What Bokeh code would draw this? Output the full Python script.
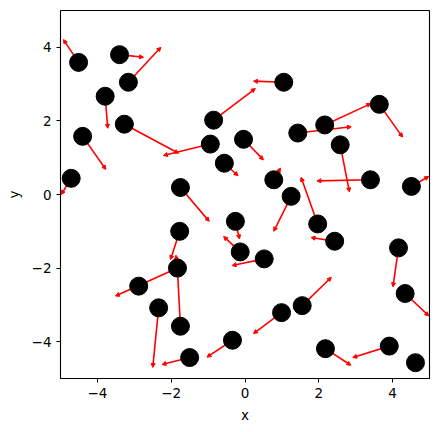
from bokeh.plotting import figure
from bokeh.models import Range1d, Arrow, NormalHead, ColumnDataSource, FixedTicker
from bokeh.embed import file_html
from bokeh.resources import INLINE

# circle positions
px = [-4.51, -3.40, -3.16, -3.79, -3.27, -0.94, -4.40, -4.71, -0.85, -1.75,
      -0.56, -0.04, 1.05, 3.64, 2.16, 1.43, 2.58, 3.40, 4.51, 0.78,
      1.25, 1.97, 2.43, 0.52, 4.16, 4.34, 1.55, 0.99, 2.18, 3.91,
      4.62, -0.26, -0.13, -1.77, -1.83, -1.75, -2.88, -2.34, -1.50, -0.34]
py = [3.59, 3.80, 3.05, 2.67, 1.91, 1.37, 1.58, 0.44, 2.02, 0.19,
      0.85, 1.50, 3.05, 2.45, 1.89, 1.67, 1.35, 0.40, 0.22, 0.40,
      -0.05, -0.80, -1.27, -1.75, -1.45, -2.69, -3.02, -3.21, -4.19, -4.12,
      -4.57, -0.73, -1.56, -1.00, -2.00, -3.58, -2.49, -3.08, -4.43, -3.96]

# arrow starts and ends
ax0 = [-4.51, -3.40, -3.16, -3.79, -3.27, -0.94, -4.40, -4.71, -0.85, -1.75,
       -0.56, -0.04, 1.05, 3.64, 2.16, 1.43, 2.58, 3.40, 4.51, 0.78,
       1.25, 1.97, 2.43, 0.52, 4.16, 4.34, 1.55, 0.99, 2.18, 3.91,
       -0.26, -0.13, -1.77, -1.83, -1.75, -1.83, -2.34, -1.50, -0.34]
ay0 = [3.59, 3.80, 3.05, 2.67, 1.91, 1.37, 1.58, 0.44, 2.02, 0.19,
       0.85, 1.50, 3.05, 2.45, 1.89, 1.67, 1.35, 0.40, 0.22, 0.40,
       -0.05, -0.80, -1.27, -1.75, -1.45, -2.69, -3.02, -3.21, -4.19, -4.12,
       -0.73, -1.56, -1.00, -2.00, -3.58, -2.00, -3.08, -4.43, -3.96]
ax1 = [-4.92, -2.75, -2.28, -3.72, -1.80, -2.21, -3.77, -4.98, 0.28, -0.97,
       -0.19, 0.50, 0.23, 4.27, 3.41, 2.88, 2.83, 1.95, 4.98, 0.96,
       0.78, 1.52, 1.79, -0.35, 4.01, 4.98, 2.34, 0.23, 2.87, 2.92,
       -0.15, -0.58, -2.02, -1.87, -1.83, -3.51, -2.50, -2.25, -1.03]
ay1 = [4.21, 3.73, 4.00, 1.80, 1.12, 1.06, 0.68, 0.00, 2.88, -0.73,
       0.51, 0.94, 3.08, 1.56, 2.47, 1.84, 0.07, 0.37, 0.49, 0.72,
       -1.00, 0.47, -1.17, -1.93, -2.51, -3.30, -2.25, -3.78, -4.64, -4.43,
       -1.21, -1.14, -1.77, -1.65, -2.05, -2.76, -4.70, -4.62, -4.42]

ticks = [-4, -2, 0, 2, 4]
tick_labels = {-4: "\u22124", -2: "\u22122", 0: "0", 2: "2", 4: "4"}

p = figure(width=439, height=432, output_backend="svg", toolbar_location=None,
           x_range=Range1d(-5, 5), y_range=Range1d(-5, 5))
p.min_border_left = 60
p.min_border_right = 10
p.min_border_top = 10
p.min_border_bottom = 54
p.xgrid.visible = False
p.ygrid.visible = False
p.outline_line_color = "black"
p.outline_line_width = 1.1
p.background_fill_color = "white"
p.border_fill_color = "white"

src = ColumnDataSource(dict(x0=ax0, y0=ay0, x1=ax1, y1=ay1))
arr = Arrow(x_start="x0", y_start="y0", x_end="x1", y_end="y1", source=src,
            line_color="red", line_width=1.6, level="underlay",
            end=NormalHead(size=4, fill_color="red", line_color="red", line_width=1))
p.add_layout(arr)

p.scatter(px, py, size=18, fill_color="black", line_color="black")

for ax in (p.xaxis[0], p.yaxis[0]):
    ax.ticker = FixedTicker(ticks=ticks)
    ax.major_label_overrides = tick_labels
    ax.axis_line_color = None
    ax.major_tick_line_color = "black"
    ax.major_tick_out = 4
    ax.major_tick_in = 0
    ax.minor_tick_line_color = None
    ax.major_label_text_font = "DejaVu Sans"
    ax.major_label_text_font_size = "13.5px"
    ax.major_label_text_color = "black"
    ax.axis_label_text_font = "DejaVu Sans"
    ax.axis_label_text_font_size = "13.5px"
    ax.axis_label_text_font_style = "normal"
    ax.axis_label_text_color = "black"
    ax.major_label_standoff = 5

p.xaxis.axis_label = "x"
p.yaxis.axis_label = "y"
p.xaxis.axis_label_standoff = 6
p.yaxis.axis_label_standoff = 7
p.yaxis.major_label_orientation = "horizontal"

open("out.html", "w").write(file_html(p, INLINE))
